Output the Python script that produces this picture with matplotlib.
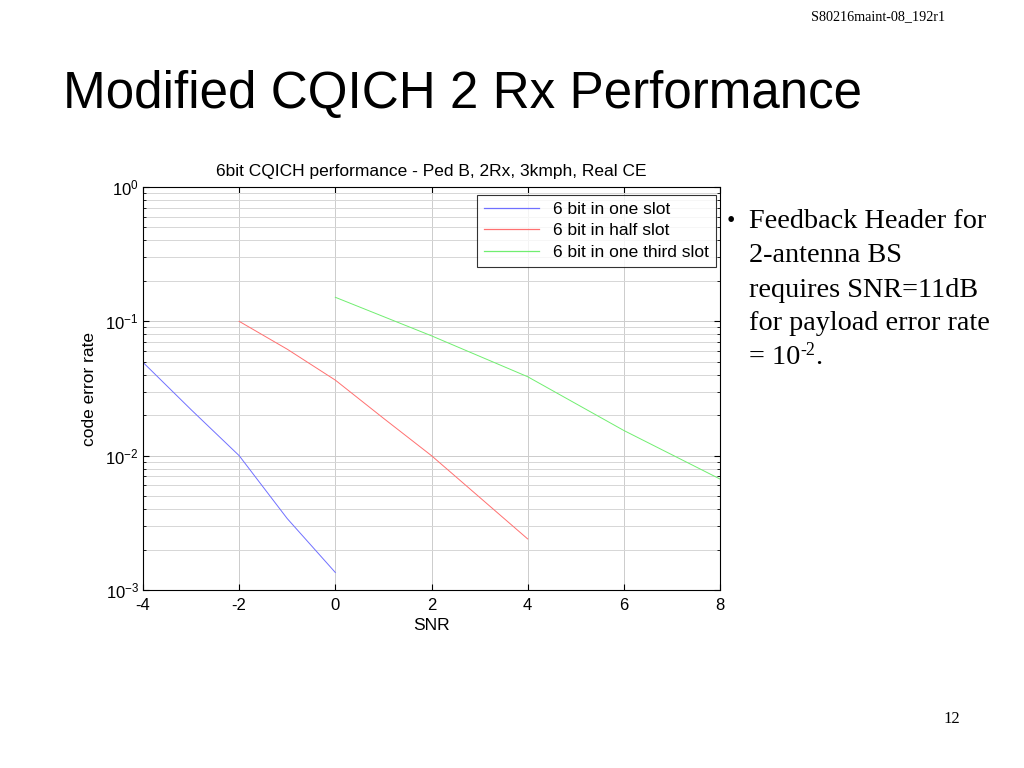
import numpy as np
import matplotlib
matplotlib.use("Agg")
import matplotlib.pyplot as plt
from matplotlib.ticker import LogLocator, NullFormatter

# data
snr_one = [-4, -3, -2, -1, 0]
err_one = [0.0495, 0.022, 0.0100, 0.0034, 0.00135]
snr_half = [-2, -1, 0, 1, 2, 3, 4]
err_half = [0.100, 0.062, 0.0365, 0.019, 0.0100, 0.0049, 0.0024]
snr_third = [0, 2, 4, 6, 8]
err_third = [0.151, 0.078, 0.0387, 0.0154, 0.0067]
labels = ['6 bit in one slot', '6 bit in half slot', '6 bit in one third slot']

plt.rcParams['font.family'] = ['Liberation Sans', 'DejaVu Sans']
plt.rcParams['mathtext.fontset'] = 'custom'
plt.rcParams['mathtext.rm'] = 'Liberation Sans'
plt.rcParams['axes.unicode_minus'] = False

fig = plt.figure(figsize=(10.24, 7.68), dpi=100)
fig.patch.set_facecolor('white')

# slide texts
fig.text(63 / 1024, 1 - 95 / 768, 'Modified CQICH 2 Rx Performance', fontsize=36.8,
         ha='left', va='center', family='Liberation Sans')
fig.text(945 / 1024, 1 - 17 / 768, 'S80216maint-08_192r1', fontsize=10.2,
         ha='right', va='center', family='Liberation Serif')
fig.text(960 / 1024, 1 - 719 / 768, '12', fontsize=12,
         ha='right', va='center', family='Liberation Serif')

bullet_lines = ['Feedback Header for', '2-antenna BS', 'requires SNR=11dB',
                'for payload error rate']
fig.text(727 / 1024, 1 - 222 / 768, '\u2022', fontsize=17, ha='left', va='center',
         family='Liberation Serif')
for i, line in enumerate(bullet_lines):
    fig.text(749 / 1024, 1 - (222 + 34 * i) / 768, line, fontsize=20.3,
             ha='left', va='center', family='Liberation Serif')
fig.text(749 / 1024, 1 - (222 + 34 * 4) / 768, '= 10', fontsize=20.3,
         ha='left', va='center', family='Liberation Serif')
fig.text(800 / 1024, 1 - (222 + 34 * 4 - 8) / 768, '-2', fontsize=13,
         ha='left', va='center', family='Liberation Serif')
fig.text(815 / 1024, 1 - (222 + 34 * 4) / 768, '.', fontsize=20.3,
         ha='left', va='center', family='Liberation Serif')

ax = fig.add_axes([143 / 1024, 1 - 590 / 768, 577 / 1024, 403 / 768])
ax.semilogy(snr_one, err_one, color='#7070ff', lw=0.7, label=labels[0])
ax.semilogy(snr_half, err_half, color='#ff7070', lw=0.7, label=labels[1])
ax.semilogy(snr_third, err_third, color='#70ee70', lw=0.7, label=labels[2])

ax.set_xlim(-4, 8)
ax.set_ylim(1e-3, 1)
ax.set_xticks([-4, -2, 0, 2, 4, 6, 8])
ax.yaxis.set_major_locator(LogLocator(base=10, numticks=10))
ax.yaxis.set_minor_locator(LogLocator(base=10, subs=np.arange(2, 10), numticks=10))
ax.yaxis.set_minor_formatter(NullFormatter())
ax.grid(True, which='major', color='#cccccc', lw=0.7)
ax.grid(True, which='minor', axis='y', color='#d6d6d6', lw=0.7)
ax.tick_params(which='both', direction='in', top=True, right=True, labelsize=12)
ax.tick_params(which='major', length=4, pad=3)
ax.tick_params(which='minor', length=2)
ax.tick_params(axis='x', pad=6)
for s in ax.spines.values():
    s.set_linewidth(0.8)

ax.set_title('6bit CQICH performance - Ped B, 2Rx, 3kmph, Real CE', fontsize=12.5, pad=8)
ax.set_xlabel('SNR', fontsize=12.5, labelpad=3)
ax.set_ylabel('code error rate', fontsize=12.5, labelpad=6)

leg = ax.legend(loc='upper right', fontsize=12.5, frameon=True, fancybox=False,
                borderaxespad=0, handlelength=3.2, labelspacing=0.35,
                bbox_to_anchor=(0.993, 0.98))
leg.get_frame().set_edgecolor('black')
leg.get_frame().set_linewidth(0.8)
for h in leg.get_lines():
    h.set_linewidth(0.9)

fig.savefig('out.png', dpi=100)
